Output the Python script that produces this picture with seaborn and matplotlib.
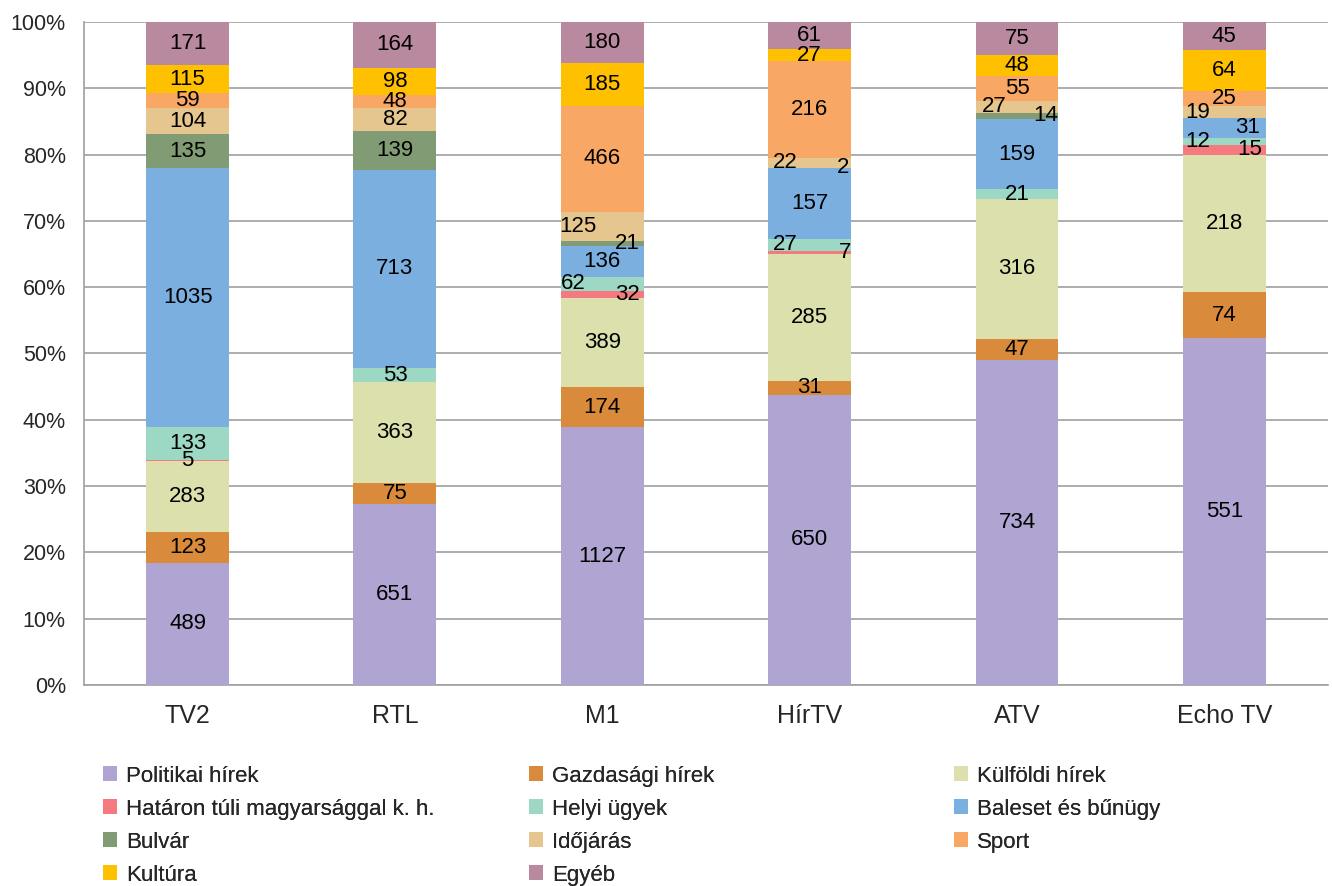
import numpy as np
import pandas as pd
import matplotlib
matplotlib.use('Agg')
import matplotlib.pyplot as plt
import seaborn as sns
from matplotlib.patches import Patch

# data: number of news items per channel and topic
channels = ['TV2', 'RTL', 'M1', 'HírTV', 'ATV', 'Echo TV']
topics = ['Politikai hírek', 'Gazdasági hírek', 'Külföldi hírek',
          'Határon túli magyarsággal k. h.', 'Helyi ügyek', 'Baleset és bűnügy',
          'Bulvár', 'Időjárás', 'Sport', 'Kultúra', 'Egyéb']

politikai = [489, 651, 1127, 650, 734, 551]
gazdasagi = [123, 75, 174, 31, 47, 74]
kulfoldi = [283, 363, 389, 285, 316, 218]
hataron = [5, 0, 32, 7, 0, 15]
helyi = [133, 53, 62, 27, 21, 12]
baleset = [1035, 713, 136, 157, 159, 31]
bulvar = [135, 139, 21, 2, 14, 0]
idojaras = [104, 82, 125, 22, 27, 19]
sport = [59, 48, 466, 216, 55, 25]
kultura = [115, 98, 185, 27, 48, 64]
egyeb = [171, 164, 180, 61, 75, 45]

colors = ['#B0A4D2', '#DA8A3B', '#DCE0AC', '#F47A80', '#9CD8C3', '#7BAFE0',
          '#819C74', '#E6C68F', '#F8A864', '#FFC000', '#B98A9F']

counts = pd.DataFrame([politikai, gazdasagi, kulfoldi, hataron, helyi, baleset,
                       bulvar, idojaras, sport, kultura, egyeb],
                      index=topics, columns=channels)
share = counts / counts.sum(axis=0) * 100

# labels that were nudged sideways in the original
nudge = {('M1', 'Időjárás'): -0.12, ('M1', 'Bulvár'): 0.12,
         ('M1', 'Helyi ügyek'): -0.14, ('M1', 'Határon túli magyarsággal k. h.'): 0.12,
         ('HírTV', 'Időjárás'): -0.12, ('HírTV', 'Bulvár'): 0.16,
         ('HírTV', 'Helyi ügyek'): -0.12, ('HírTV', 'Határon túli magyarsággal k. h.'): 0.17,
         ('ATV', 'Időjárás'): -0.11, ('ATV', 'Bulvár'): 0.14,
         ('Echo TV', 'Időjárás'): -0.13, ('Echo TV', 'Baleset és bűnügy'): 0.11,
         ('Echo TV', 'Helyi ügyek'): -0.13, ('Echo TV', 'Határon túli magyarsággal k. h.'): 0.12}

sns.set_style('white')
plt.rcParams['font.family'] = ['Liberation Sans', 'DejaVu Sans']

fig = plt.figure(figsize=(13.32, 8.86), dpi=100)
ax = fig.add_axes([0.063, 0.2269, 0.934, 0.7483])

bottom = np.zeros(len(channels))
for topic, col in zip(topics, colors):
    vals = share.loc[topic].values
    sns.barplot(x=channels, y=vals, bottom=bottom, color=col, width=0.4,
                saturation=1, ax=ax, linewidth=0, zorder=3)
    for i, ch in enumerate(channels):
        n = counts.loc[topic, ch]
        if n > 0:
            ax.text(i + nudge.get((ch, topic), 0), bottom[i] + vals[i] / 2, str(n),
                    ha='center', va='center', fontsize=16, color='black', zorder=4)
    bottom = bottom + vals

ax.set_ylim(0, 100)
ax.set_xlim(-0.5, 5.5)
ax.set_yticks(np.arange(0, 101, 10))
ax.set_yticklabels([f'{v}%' for v in range(0, 101, 10)], fontsize=15.5)
ax.set_xticks(range(len(channels)))
ax.set_xticklabels(channels, fontsize=18)
ax.set_xticks(np.arange(-0.5, 6, 1), minor=True)
ax.tick_params(axis='x', which='major', length=0, pad=14)
ax.tick_params(axis='x', which='minor', length=7, color='#A0A0A0', direction='out')
ax.tick_params(axis='y', length=7, color='#A0A0A0', direction='out', pad=6)
ax.set_xlabel('')
ax.set_ylabel('')
ax.yaxis.grid(True, color='#A0A0A0', linewidth=1.2, zorder=0)
ax.set_axisbelow(True)
for s in ['top', 'right']:
    ax.spines[s].set_visible(False)
for s in ['left', 'bottom']:
    ax.spines[s].set_color('#A0A0A0')
    ax.spines[s].set_linewidth(1.2)

# legend: three columns, filled row by row
handles = [Patch(facecolor=c, edgecolor='none', label=t) for t, c in zip(topics, colors)]
col_x = [0.077, 0.397, 0.716]
for k, x0 in enumerate(col_x):
    leg = fig.legend(handles=handles[k::3], loc='upper left', bbox_to_anchor=(x0, 0.136),
                     frameon=False, fontsize=16, handlelength=0.65, handleheight=0.65,
                     handletextpad=0.4, labelspacing=0.54, borderpad=0, borderaxespad=0)
    fig.add_artist(leg)

fig.savefig('out.png', dpi=100)
